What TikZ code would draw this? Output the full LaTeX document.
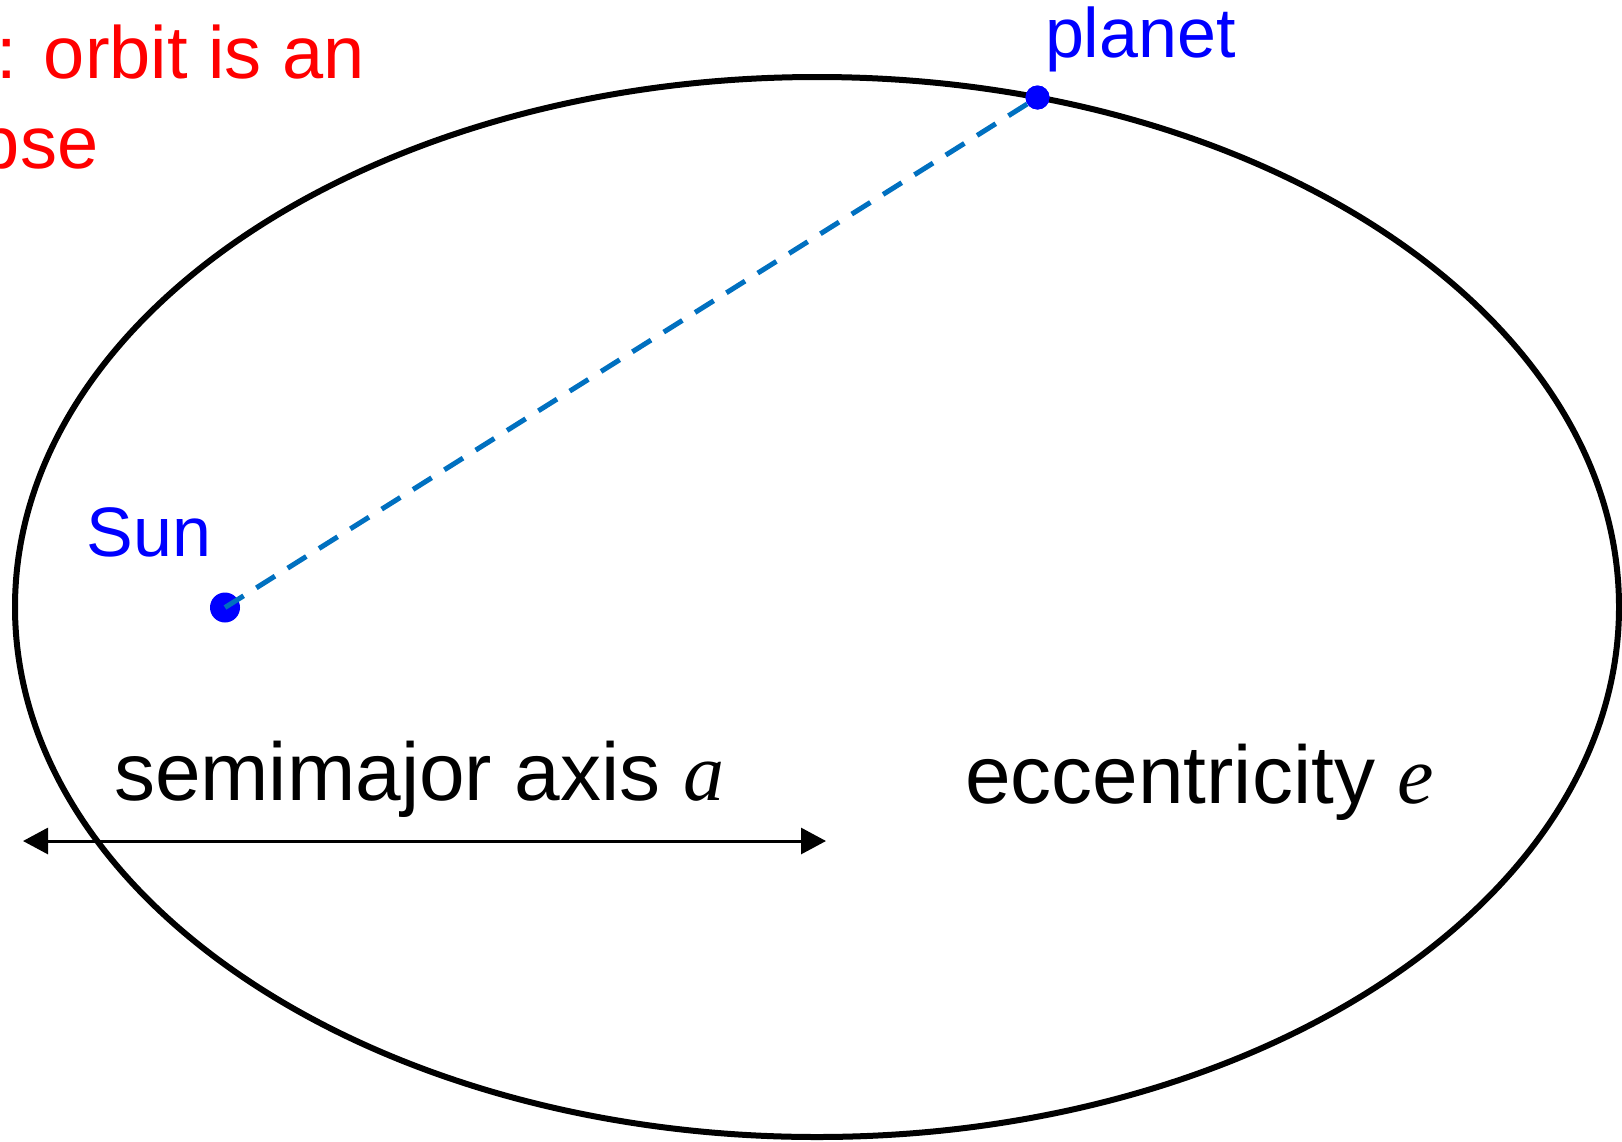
\documentclass[tikz,border=0pt]{standalone}
\usepackage{fontspec}
\setmainfont{Liberation Sans}
\newfontfamily\varfont{Liberation Serif}
\usetikzlibrary{arrows.meta}
\definecolor{dashblue}{RGB}{0,112,192}
\definecolor{ptblue}{RGB}{0,0,255}
\definecolor{lawred}{RGB}{255,0,0}
\newcommand{\mvar}[1]{{\varfont\itshape #1}}
\tikzset{
  lbl/.style={inner sep=0pt, outer sep=0pt, anchor=base west},
  redtxt/.style={lbl, text=lawred, font=\fontsize{74}{89}\selectfont},
  bluetxt/.style={lbl, text=ptblue, font=\fontsize{70}{84}\selectfont},
  blacktxt/.style={lbl, text=black, font=\fontsize{82}{98}\selectfont},
  body/.style={circle, fill=ptblue, inner sep=0pt, outer sep=0pt},
  orbit/.style={draw=black, line width=6pt},
  radius line/.style={draw=dashblue, line width=5pt, dash pattern=on 22pt off 15pt},
  axisarrow/.style={draw=black, line width=3pt, {Triangle[length=25pt,width=26pt]}-{Triangle[length=25pt,width=26pt]}}
}
\begin{document}
\begin{tikzpicture}[x=1pt, y=-1pt]
\useasboundingbox (0,0) rectangle (1622,1141);
\clip (0,0) rectangle (1622,1141);
\fill[white] (0,0) rectangle (1622,1141);
% orbit
\path[orbit] (817,607) ellipse [x radius=802pt, y radius=530pt];
% red heading (cut at the left edge)
\node[redtxt] (law1) at (-4,78) {: orbit is an};
\node[redtxt] (law2) at (-21,168) {pse};
% sun and planet
\node[body, minimum size=30pt] (sun) at (225,607.5) {};
\node[body, minimum size=24pt] (planet) at (1037.5,97.5) {};
\path[radius line] (sun.center) -- (planet.center);
\node[body, minimum size=24pt] at (planet.center) {};
\node[bluetxt] (sunlbl) at (86.5,556) {Sun};
\node[bluetxt] (planetlbl) at (1045,57) {planet};
% semimajor axis
\node[blacktxt] (semi) at (114,800) {semimajor axis \mvar{a}};
\coordinate (aL) at (23,841);
\coordinate (aR) at (826,841);
\path[axisarrow] (aL) -- (aR);
% eccentricity
\node[blacktxt] (ecc) at (965,803) {eccentricity \mvar{e}};
\end{tikzpicture}
\end{document}
